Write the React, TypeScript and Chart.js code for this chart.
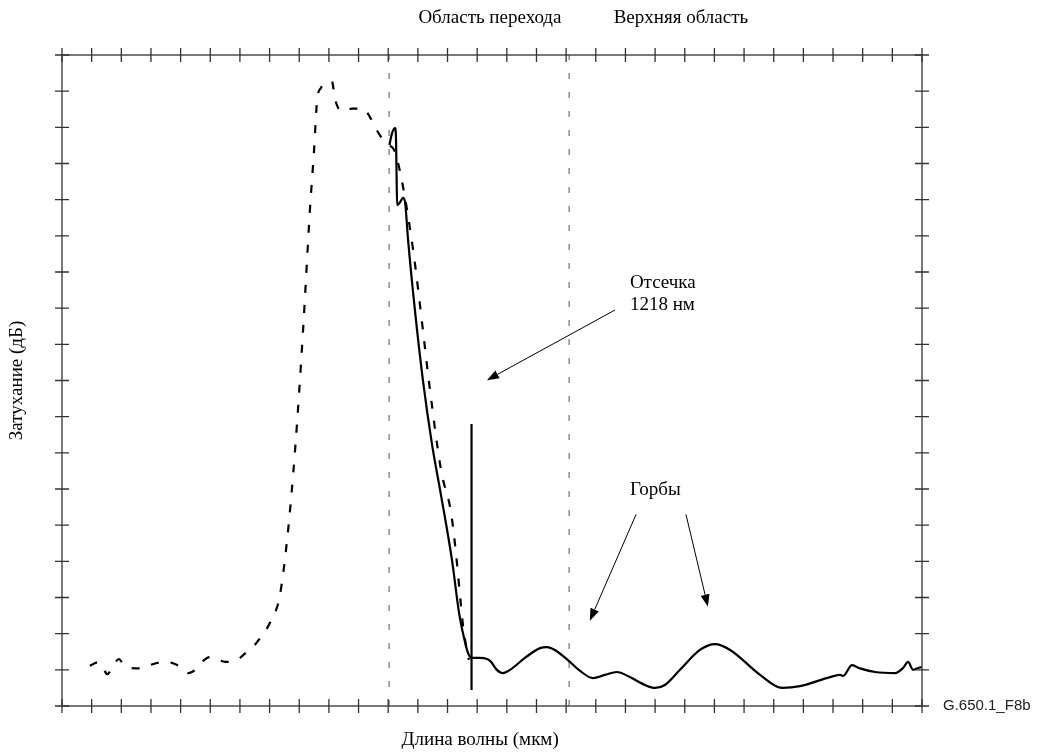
import { useEffect, useRef } from "react";
import { Chart, registerables } from "chart.js";

Chart.register(...registerables);

// Axis ticks (arbitrary units, unlabeled in the original)
const xTickValues = [0, 1, 2, 3, 4, 5, 6, 7, 8, 9, 10, 11, 12, 13, 14, 15, 16, 17, 18, 19, 20, 21, 22, 23, 24, 25, 26, 27, 28, 29];
const yTickValues = [0, 1, 2, 3, 4, 5, 6, 7, 8, 9, 10, 11, 12, 13, 14, 15, 16, 17, 18];

// Solid curve (measured attenuation)
const solidX = [11.04, 11.13, 11.23, 11.26, 11.28, 11.30, 11.40, 11.50, 11.57, 11.67, 11.90, 12.17, 12.48, 12.75, 13.15, 13.39, 13.55, 13.69, 13.82, 14.09, 14.33, 14.47, 14.64, 14.87, 15.11, 15.61, 16.12, 16.35, 16.62, 17.06, 17.47, 17.91, 18.31, 18.71, 19.15, 19.66, 20.00, 20.33, 20.84, 21.51, 22.02, 22.53, 23.54, 24.28, 24.89, 25.90, 26.24, 26.34, 26.64, 26.91, 27.42, 28.09, 28.36, 28.53, 28.70, 28.87, 29.00];
const solidY = [15.51, 15.84, 15.98, 15.79, 14.82, 13.85, 13.93, 14.05, 13.92, 12.89, 10.95, 9.01, 7.22, 5.97, 4.04, 2.57, 1.91, 1.47, 1.33, 1.33, 1.30, 1.22, 1.02, 0.91, 1.00, 1.33, 1.60, 1.63, 1.55, 1.27, 0.97, 0.77, 0.86, 0.94, 0.80, 0.58, 0.50, 0.58, 1.00, 1.55, 1.71, 1.55, 0.86, 0.50, 0.55, 0.80, 0.86, 0.83, 1.13, 1.04, 0.94, 0.91, 1.05, 1.22, 1.00, 1.05, 1.08];

// Dashed curve (reference attenuation)
const dashedX = [0.94, 1.21, 1.38, 1.53, 1.72, 1.92, 2.06, 2.33, 2.66, 2.90, 3.20, 3.54, 3.74, 4.05, 4.25, 4.38, 4.52, 4.75, 4.99, 5.23, 5.50, 5.87, 6.07, 6.34, 6.54, 6.71, 6.88, 7.05, 7.18, 7.35, 7.59, 7.86, 8.13, 8.36, 8.50, 8.60, 8.73, 8.90, 9.10, 9.20, 9.31, 9.48, 9.63, 9.77, 9.95, 10.15, 10.32, 10.61, 10.79, 11.03, 11.20, 11.43, 11.84, 12.17, 12.38, 12.78, 13.12, 13.29, 13.42, 13.52, 13.62, 13.72];
const dashedY = [1.11, 1.21, 1.05, 0.88, 1.11, 1.30, 1.16, 1.05, 1.04, 1.11, 1.19, 1.22, 1.18, 1.05, 0.91, 0.94, 1.02, 1.24, 1.35, 1.29, 1.22, 1.25, 1.38, 1.58, 1.73, 1.91, 2.10, 2.36, 2.56, 3.07, 4.59, 7.08, 10.40, 13.71, 15.37, 16.73, 17.09, 17.20, 17.28, 16.81, 16.54, 16.45, 16.48, 16.52, 16.52, 16.52, 16.37, 15.93, 15.70, 15.51, 15.37, 14.65, 12.61, 10.40, 8.93, 6.53, 5.34, 4.18, 3.07, 2.24, 1.69, 1.27];

// Cut-off marker
const cutoffX = [13.81, 13.81];
const cutoffY = [0.44, 7.8];

// Region boundaries (thin dashed verticals)
const regionBoundaryX = [11.03, 17.1];

// Region titles above the plot
const regionTitles = ["Область перехода", "Верхняя область"];
const regionTitleX = [14.43, 20.87];
const regionTitleY = [19.03, 19.03];

// Annotation texts
const noteTexts = ["Отсечка", "1218 нм", "Горбы"];
const noteX = [19.15, 19.15, 19.15];
const noteY = [11.7, 11.09, 5.97];

// Arrows
const arrowFromX = [18.65, 19.36, 21.04];
const arrowFromY = [10.95, 5.3, 5.3];
const arrowToX = [14.33, 17.8, 21.78];
const arrowToY = [9.01, 2.36, 2.75];

const xAxisTitle = "Длина волны (мкм)";
const yAxisTitle = "Затухание (дБ)";
const figureId = "G.650.1_F8b";

const SERIF = "'Liberation Serif', 'Times New Roman', serif";
const SANS = "'Liberation Sans', Arial, sans-serif";

const pts = (xs: number[], ys: number[]) => xs.map((x, i) => ({ x, y: ys[i] }));

const framePlugin = {
  id: "frame",
  afterDatasetsDraw(chart: any) {
    const { ctx, chartArea } = chart;
    const xs = chart.scales.x;
    const ys = chart.scales.y;
    const { left, right, top, bottom } = chartArea;
    ctx.save();
    // Box
    ctx.strokeStyle = "#333";
    ctx.lineWidth = 1.3;
    ctx.strokeRect(left, top, right - left, bottom - top);
    // ticks crossing the axes
    const t = 7;
    ctx.beginPath();
    xTickValues.forEach((v) => {
      const px = xs.getPixelForValue(v);
      ctx.moveTo(px, top - t);
      ctx.lineTo(px, top + t);
      ctx.moveTo(px, bottom - t);
      ctx.lineTo(px, bottom + t);
    });
    yTickValues.forEach((v) => {
      const py = ys.getPixelForValue(v);
      ctx.moveTo(left - t, py);
      ctx.lineTo(left + t, py);
      ctx.moveTo(right - t, py);
      ctx.lineTo(right + t, py);
    });
    ctx.stroke();

    // Arrows
    ctx.strokeStyle = "#000";
    ctx.fillStyle = "#000";
    ctx.lineWidth = 1;
    arrowFromX.forEach((_, i) => {
      const x0 = xs.getPixelForValue(arrowFromX[i]);
      const y0 = ys.getPixelForValue(arrowFromY[i]);
      const x1 = xs.getPixelForValue(arrowToX[i]);
      const y1 = ys.getPixelForValue(arrowToY[i]);
      const ang = Math.atan2(y1 - y0, x1 - x0);
      const hl = 12;
      const hw = 4.5;
      const bx = x1 - hl * Math.cos(ang);
      const by = y1 - hl * Math.sin(ang);
      ctx.beginPath();
      ctx.moveTo(x0, y0);
      ctx.lineTo(bx, by);
      ctx.stroke();
      ctx.beginPath();
      ctx.moveTo(x1, y1);
      ctx.lineTo(bx + hw * Math.sin(ang), by - hw * Math.cos(ang));
      ctx.lineTo(bx - hw * Math.sin(ang), by + hw * Math.cos(ang));
      ctx.closePath();
      ctx.fill();
    });

    // Texts
    ctx.fillStyle = "#000";
    ctx.font = `19px ${SERIF}`;
    ctx.textBaseline = "middle";
    ctx.textAlign = "center";
    regionTitles.forEach((s, i) => {
      ctx.fillText(s, xs.getPixelForValue(regionTitleX[i]), ys.getPixelForValue(regionTitleY[i]));
    });
    ctx.textAlign = "left";
    noteTexts.forEach((s, i) => {
      ctx.fillText(s, xs.getPixelForValue(noteX[i]), ys.getPixelForValue(noteY[i]));
    });
    ctx.textAlign = "center";
    ctx.fillText(xAxisTitle, xs.getPixelForValue(14.1), bottom + 34);
    ctx.save();
    ctx.translate(left - 45, (top + bottom) / 2);
    ctx.rotate(-Math.PI / 2);
    ctx.fillText(yAxisTitle, 0, 0);
    ctx.restore();
    ctx.font = `15px ${SANS}`;
    ctx.textAlign = "left";
    ctx.fillStyle = "#222";
    ctx.fillText(figureId, right + 21, bottom);
    ctx.restore();
  },
};

export default function App() {
  const ref = useRef<HTMLCanvasElement | null>(null);
  useEffect(() => {
    document.body.style.margin = "0";
    const canvas = ref.current;
    if (!canvas) return;
    const chart = new Chart(canvas, {
      type: "line",
      data: {
        datasets: [
          {
            data: pts(solidX, solidY),
            borderColor: "#000",
            borderWidth: 2.2,
            pointRadius: 0,
            cubicInterpolationMode: "monotone",
            fill: false,
          },
          {
            data: pts(dashedX, dashedY),
            borderColor: "#000",
            borderWidth: 2.2,
            borderDash: [8, 12],
            pointRadius: 0,
            cubicInterpolationMode: "monotone",
            fill: false,
          },
          {
            data: pts(cutoffX, cutoffY),
            borderColor: "#000",
            borderWidth: 2.2,
            pointRadius: 0,
          },
          ...regionBoundaryX.map((x) => ({
            data: [
              { x, y: yTickValues[0] },
              { x, y: yTickValues[yTickValues.length - 1] },
            ],
            borderColor: "#555",
            borderWidth: 1,
            borderDash: [6, 13],
            pointRadius: 0,
          })),
        ] as any,
      },
      options: {
        animation: false,
        responsive: false,
        devicePixelRatio: 1,
        layout: { padding: { left: 62, top: 55, right: 116, bottom: 48 } },
        plugins: { legend: { display: false }, tooltip: { enabled: false } },
        scales: {
          x: { type: "linear", min: 0, max: 29, display: false },
          y: { type: "linear", min: 0, max: 18, display: false },
        },
      },
      plugins: [framePlugin],
    });
    return () => chart.destroy();
  }, []);
  return (
    <div style={{ position: "absolute", left: 0, top: 0, width: 1038, height: 754, background: "#fff" }}>
      <canvas ref={ref} width={1038} height={754} style={{ display: "block" }} />
    </div>
  );
}
